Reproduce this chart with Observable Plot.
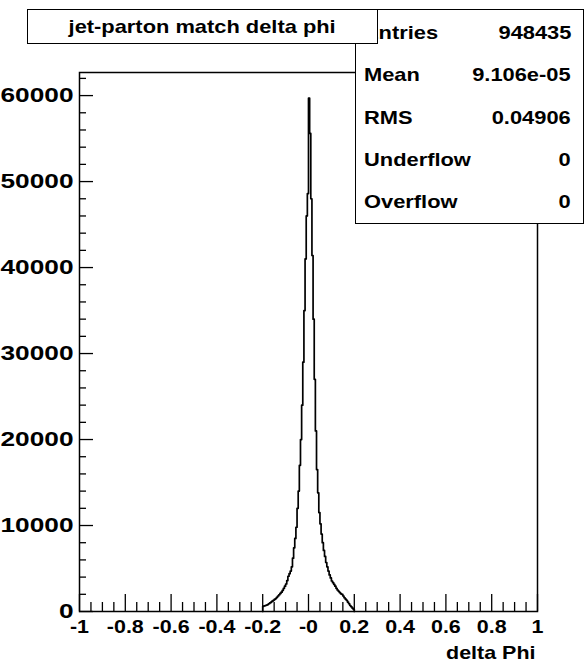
<!DOCTYPE html>
<html>
<head>
<meta charset="utf-8">
<script src="https://cdn.jsdelivr.net/npm/d3@7"></script>
<script src="https://cdn.jsdelivr.net/npm/@observablehq/plot@0.6"></script>
<style>
  html, body { margin: 0; padding: 0; background: #fff; }
  #wrap { position: relative; width: 585px; height: 666px; overflow: hidden; font-family: "Liberation Sans", Arial, sans-serif; font-weight: bold; color: #000; }
  #wrap svg { position: absolute; left: 0; top: 0; }
  .box { position: absolute; background: #fff; border: 1.5px solid #000; box-sizing: border-box; }
  #title { left: 27px; top: 9px; width: 351px; height: 35px; display: flex; align-items: center; justify-content: center; font-size: 19px; z-index: 3; }
  #stats { left: 355px; top: 9px; width: 229px; height: 215px; z-index: 2; display: flex; flex-direction: column; padding-top: 2px; }
  .row { flex: 1; display: flex; align-items: center; justify-content: space-between; padding: 0 12px 0 8px; font-size: 19px; }
  .sx { display: inline-block; transform: scaleX(1.15); }
  .sx.l { transform-origin: left center; }
  .sx.r { transform-origin: right center; }
</style>
</head>
<body>
<div id="wrap"></div>
<script>
// ---- data ----
const histTitle = "jet-parton match delta phi";
const xAxisLabel = "delta Phi";
const binStart = -0.2;      // first filled bin low edge
const binWidth = 0.005;     // 400 bins on [-1, 1]
const binCounts = [
  600, 650, 700, 750, 800, 900, 1000, 1100, 1200, 1300,
  1400, 1500, 1650, 1800, 1950, 2100, 2250, 2450, 2700, 2950,
  3200, 3600, 4100, 4400, 4700, 5200, 6200, 7400, 8500, 9800,
  12000, 14000, 17000, 20000, 24000, 29000, 35000, 41000, 46000, 48600,
  59700, 55600, 48000, 41400, 34000, 27000, 21000, 16500, 13800, 11500,
  10200, 9000, 8000, 7100, 6400, 5700, 5200, 4700, 4250, 3900,
  3550, 3350, 3150, 2950, 2700, 2500, 2350, 2200, 2050, 2000,
  1800, 1600, 1450, 1300, 1100, 900, 700, 550, 400, 250
];
const xMajorTicks = [-1, -0.8, -0.6, -0.4, -0.2, 0, 0.2, 0.4, 0.6, 0.8, 1];
const xTickLabels = ["-1", "-0.8", "-0.6", "-0.4", "-0.2", "-0", "0.2", "0.4", "0.6", "0.8", "1"];
const yMajorTicks = [0, 10000, 20000, 30000, 40000, 50000, 60000];
const yTickLabels = ["0", "10000", "20000", "30000", "40000", "50000", "60000"];
const statNames = ["Entries", "Mean", "RMS", "Underflow", "Overflow"];
const statValues = ["948435", "9.106e-05", "0.04906", "0", "0"];
const yMax = 62685;

// ---- derived ----
const xMinorTicks = d3.range(-20, 21).map(k => k * 0.05).filter(v => Math.abs(Math.round(v * 5) - v * 5) > 1e-6);
const yMinorTicks = d3.range(0, 32).map(k => k * 2000).filter(v => v % 10000 !== 0);
const lastEdge = binStart + binCounts.length * binWidth;
const histPoints = [{x: binStart, y: 0}]
  .concat(binCounts.map((c, i) => ({x: binStart + i * binWidth, y: c})))
  .concat([{x: lastEdge, y: 0}]);

const W = 585, H = 666;
const mL = 79, mR = 48, mT = 72, mB = 55;
const plotW = W - mL - mR, plotH = H - mT - mB;

const chart = Plot.plot({
  width: W, height: H,
  marginLeft: mL, marginRight: mR, marginTop: mT, marginBottom: mB,
  style: {fontFamily: "'Liberation Sans', Arial, sans-serif", fontWeight: "bold", background: "white", color: "black"},
  x: {domain: [-1, 1]},
  y: {domain: [0, yMax]},
  marks: [
    Plot.frame({stroke: "black", strokeWidth: 1.5}),
    Plot.tickX(xMajorTicks, {x: d => d, insetTop: plotH - 17, stroke: "black", strokeWidth: 1.3}),
    Plot.tickX(xMinorTicks, {x: d => d, insetTop: plotH - 9, stroke: "black", strokeWidth: 1.3}),
    Plot.tickY(yMajorTicks, {y: d => d, insetRight: plotW - 14, stroke: "black", strokeWidth: 1.3}),
    Plot.tickY(yMinorTicks, {y: d => d, insetRight: plotW - 7, stroke: "black", strokeWidth: 1.3}),
    Plot.line(histPoints, {x: "x", y: "y", curve: "step-after", stroke: "black", strokeWidth: 1.7}),
    Plot.axisX({ticks: xMajorTicks, tickSize: 0, tickPadding: 8, fontSize: 19, tickFormat: (d, i) => xTickLabels[i], label: null}),
    Plot.axisY({ticks: yMajorTicks, tickSize: 0, tickPadding: 6, fontSize: 21, tickFormat: (d, i) => yTickLabels[i], label: null}),
    Plot.text([xAxisLabel], {frameAnchor: "bottom-right", dy: 47, dx: -2, textAnchor: "end", fontSize: 19, text: d => d})
  ]
});

// stretch text horizontally to match the reference's wide lettering
d3.select(chart).selectAll("text").each(function() {
  const isY = this.closest('g[aria-label="y-axis tick label"]') !== null;
  const s = isY ? 1.25 : 1.13;
  const x = +this.getAttribute("x") || 0, y = +this.getAttribute("y") || 0;
  const t = this.getAttribute("transform") || "";
  this.setAttribute("transform", `${t} translate(${x},${y}) scale(${s},1) translate(${-x},${-y})`);
});

const wrap = document.getElementById("wrap");
wrap.appendChild(chart);

const stats = document.createElement("div");
stats.id = "stats"; stats.className = "box";
statNames.forEach((n, i) => {
  const r = document.createElement("div");
  r.className = "row";
  r.innerHTML = `<span class="sx l">${n}</span><span class="sx r">${statValues[i]}</span>`;
  stats.appendChild(r);
});
wrap.appendChild(stats);

const title = document.createElement("div");
title.id = "title"; title.className = "box";
title.innerHTML = `<span class="sx">${histTitle}</span>`;
wrap.appendChild(title);
</script>
</body>
</html>
